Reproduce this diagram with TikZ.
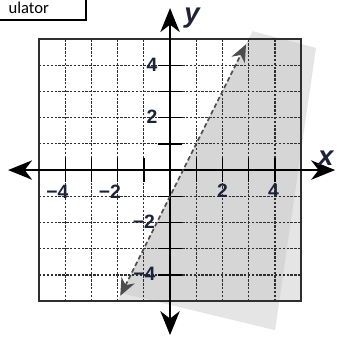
\documentclass[tikz,border=0pt]{standalone}
\usepackage{fontspec}
\setmainfont{Liberation Sans}
\newfontfamily\notefont{Carlito}
\usepackage{tikz}
\usetikzlibrary{arrows.meta}
\definecolor{shadelight}{HTML}{E5E5E5}
\definecolor{shadedark}{HTML}{D6D6D6}
\definecolor{gridgray}{HTML}{2E2E2E}
\definecolor{labelink}{HTML}{1E2238}

\begin{document}
\begin{tikzpicture}[
    axis/.style={line width=1.8pt, {Stealth[length=26pt, width=21pt, inset=8pt]}-{Stealth[length=26pt, width=21pt, inset=8pt]}},
    tickmark/.style={line width=1.5pt},
    gridline/.style={gridgray, line width=1.4pt, dash pattern=on 2.6pt off 1.6pt},
    boundary/.style={gridgray!85, line width=1.8pt, dash pattern=on 5pt off 3pt, {Stealth[length=19pt, width=16pt, inset=6pt]}-{Stealth[length=19pt, width=16pt, inset=6pt]}},
    ticklabel/.style={font=\fontsize{21}{21}\selectfont\bfseries, text=labelink, inner sep=0pt},
    axislabel/.style={font=\fontsize{30}{30}\selectfont\bfseries\itshape, text=labelink, inner sep=0pt},
]
    \useasboundingbox (-6.49,-6.41) rectangle (6.34,6.49);

    % Shaded half-plane and the tilted sheet behind it
    \fill[shadelight] (3.15,5.3) -- (5.57,4.66) -- (4.01,-6.11) -- (-1.85,-4.7) -- cycle;
    \fill[shadelight] (-2,-5) -- (3,5) -- (5,5) -- (5,-5) -- cycle;
    \begin{scope}
        \clip (3.15,5.3) -- (5.57,4.66) -- (4.01,-6.11) -- (-1.85,-4.7) -- cycle;
        \fill[shadedark] (-2,-5) -- (3,5) -- (5,5) -- (5,-5) -- cycle;
    \end{scope}

    % Grid
    \foreach \k in {-4,-3,-2,-1,1,2,3,4} {
        \draw[gridline] (\k,-5) -- (\k,5);
        \draw[gridline] (-5,\k) -- (5,\k);
    }
    \draw[gridgray, line width=1.8pt] (-5,-5) rectangle (5,5);

    % Axes
    \coordinate (xwest) at (-6.18,0);
    \coordinate (xeast) at (6.3,0);
    \coordinate (ysouth) at (0,-6.3);
    \coordinate (ynorth) at (0,6.18);
    \draw[axis] (xwest) -- (xeast);
    \draw[axis] (ysouth) -- (ynorth);
    \foreach \k in {-4,-3,-2,-1,1,2,3,4} {
        \draw[tickmark] (\k,-0.45) -- (\k,0.45);
        \draw[tickmark] (-0.45,\k) -- (0.45,\k);
    }

    % Boundary line
    \coordinate (lo) at (-1.9,-4.8);
    \coordinate (hi) at (2.9,4.8);
    \draw[boundary] (lo) -- (hi);

    % Labels
    \node[axislabel, anchor=base] (xname) at (5.94,0.19) {x};
    \node[axislabel, anchor=base] (yname) at (0.84,5.64) {y};
    \node[ticklabel] (xm4) at (-4.3,-0.82) {−4};
    \node[ticklabel] (xm2) at (-2.3,-0.82) {−2};
    \node[ticklabel] (xp2) at (2.0,-0.8) {2};
    \node[ticklabel] (xp4) at (3.95,-0.8) {4};
    \node[ticklabel] (yp4) at (-0.69,4.0) {4};
    \node[ticklabel] (yp2) at (-0.69,2.02) {2};
    \node[ticklabel] (ym2) at (-1.0,-1.98) {−2};
    \node[ticklabel] (ym4) at (-0.98,-3.97) {−4};

    % Cut-off note box
    \draw[line width=1.6pt] (-8,5.73) rectangle (-3.21,7);
    \node[font=\notefont\fontsize{18}{18}\selectfont, anchor=base east, inner sep=0pt] (note) at (-4.62,5.98) {ulator};
\end{tikzpicture}
\end{document}
